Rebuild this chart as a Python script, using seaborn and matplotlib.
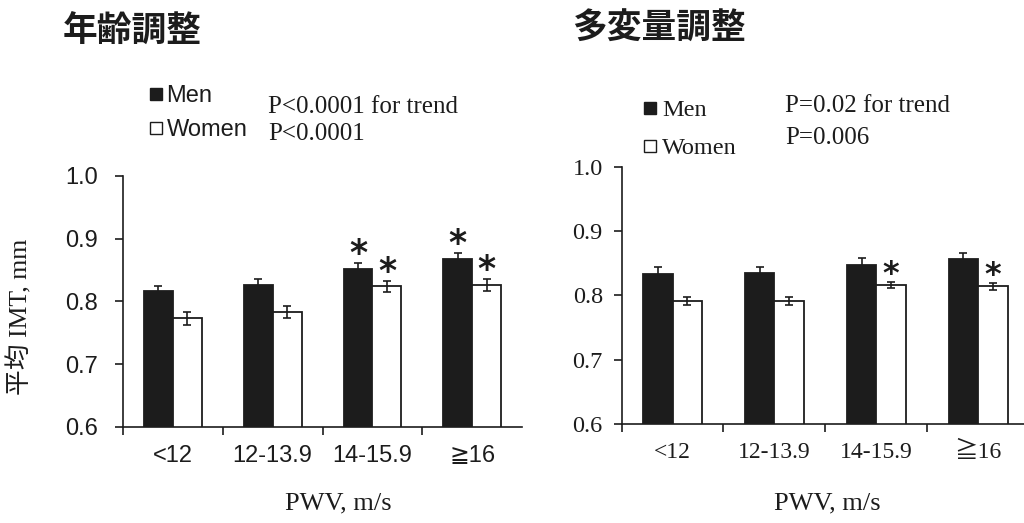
import numpy as np
import pandas as pd
import matplotlib as mpl
mpl.use("Agg")
import matplotlib.pyplot as plt
from matplotlib.lines import Line2D
import seaborn as sns

# PWV categories (x axis)
pwv_groups = ["<12", "12-13.9", "14-15.9", "≧16"]

# age adjusted (left panel)
age_men = [0.816, 0.826, 0.851, 0.867]
age_men_err = [0.009, 0.009, 0.011, 0.010]
age_women = [0.773, 0.783, 0.824, 0.826]
age_women_err = [0.010, 0.010, 0.009, 0.010]
age_men_sig = [False, False, True, True]
age_women_sig = [False, False, True, True]

# multivariable adjusted (right panel)
multi_men = [0.834, 0.835, 0.847, 0.856]
multi_men_err = [0.010, 0.009, 0.011, 0.010]
multi_women = [0.791, 0.791, 0.816, 0.814]
multi_women_err = [0.006, 0.006, 0.005, 0.006]
multi_men_sig = [False, False, False, False]
multi_women_sig = [False, False, True, True]

y_ticks = [0.6, 0.7, 0.8, 0.9, 1.0]

INK = "#1c1c1c"
SANS = ["Liberation Sans", "DejaVu Sans", "Noto Sans CJK JP"]
SERIF = ["Liberation Serif", "DejaVu Serif", "Noto Sans CJK JP"]
CJK = ["Noto Sans CJK JP", "DejaVu Sans"]

sns.set_style("ticks")
plt.rcParams["font.family"] = SANS
plt.rcParams["text.color"] = INK
plt.rcParams["axes.edgecolor"] = INK


def panel(ax, men, men_err, women, women_err, men_sig, women_sig, fam,
          ytick_fs, xtick_fs, xpad, ypad, star_fs):
    df = pd.DataFrame({
        "pwv": pwv_groups * 2,
        "imt": men + women,
        "sex": ["Men"] * 4 + ["Women"] * 4,
    })
    sns.barplot(data=df, x="pwv", y="imt", hue="sex",
                palette={"Men": INK, "Women": "white"},
                edgecolor=INK, linewidth=1.3, width=0.58,
                saturation=1, legend=False, ax=ax)
    for cont, vals, errs, sigs in zip(ax.containers, [men, women],
                                      [men_err, women_err], [men_sig, women_sig]):
        xs = [b.get_x() + b.get_width() / 2 for b in cont]
        ax.errorbar(xs, vals, yerr=errs, fmt="none", ecolor=INK,
                    elinewidth=1.2, capsize=3, capthick=1.2, zorder=3)
        for x, v, e, s in zip(xs, vals, errs, sigs):
            if s:
                ax.annotate("*", (x, v + e), xytext=(0, -6), textcoords="offset points",
                            ha="center", va="bottom", fontsize=star_fs,
                            fontweight="bold", family="DejaVu Sans", color=INK)
    ax.set_ylim(0.6, 1.0)
    ax.set_xlim(-0.5, 3.5)
    ax.set_yticks(y_ticks)
    ax.set_yticklabels([f"{t:.1f}" for t in y_ticks], family=fam, fontsize=ytick_fs)
    ax.set_xticks([-0.5, 0.5, 1.5, 2.5])
    ax.set_xticklabels([])
    ax.set_xticks(range(4), minor=True)
    ax.set_xticklabels(pwv_groups, minor=True, family=fam, fontsize=xtick_fs)
    ax.tick_params(axis="x", which="major", direction="out", length=6, width=1.2, color=INK)
    ax.tick_params(axis="x", which="minor", length=0, pad=xpad, colors=INK)
    ax.tick_params(axis="y", direction="out", length=6, width=1.2, pad=ypad, colors=INK)
    ax.set_xlabel("")
    ax.set_ylabel("")
    for side in ["top", "right"]:
        ax.spines[side].set_visible(False)
    for side in ["left", "bottom"]:
        ax.spines[side].set_linewidth(1.2)


fig = plt.figure(figsize=(10.24, 5.23), dpi=100)
ax1 = fig.add_axes([0.120, 0.1836, 0.390, 0.480])
ax2 = fig.add_axes([0.607, 0.1887, 0.398, 0.4926])

panel(ax1, age_men, age_men_err, age_women, age_women_err, age_men_sig, age_women_sig,
      SANS, 17, 17, 13, 12, 25)
panel(ax2, multi_men, multi_men_err, multi_women, multi_women_err, multi_men_sig,
      multi_women_sig, SERIF, 17.5, 17, 13, 7.5, 23)

# titles
fig.text(63 / 1024, 1 - 31 / 523, "年齢調整", family=CJK, fontweight="bold",
         fontsize=25, va="center", ha="left")
fig.text(572 / 1024, 1 - 28 / 523, "多変量調整", family=CJK, fontweight="bold",
         fontsize=25, va="center", ha="left")

# axis labels
fig.text(20 / 1024, 1 - 317 / 523, "平均 IMT, mm", family=SERIF, rotation=90,
         fontsize=18.5, va="center", ha="center")
fig.text(338 / 1024, 1 - 503 / 523, "PWV, m/s", family=SERIF, fontsize=19,
         va="center", ha="center")
fig.text(827 / 1024, 1 - 503 / 523, "PWV, m/s", family=SERIF, fontsize=19,
         va="center", ha="center")

# legends
handles = [Line2D([], [], ls="none", marker="s", markersize=8, markerfacecolor=INK,
                  markeredgecolor=INK, markeredgewidth=1.0),
           Line2D([], [], ls="none", marker="s", markersize=8, markerfacecolor="white",
                  markeredgecolor=INK, markeredgewidth=1.0)]
leg1 = fig.legend(handles, ["Men", "Women"], loc="upper left",
                  bbox_to_anchor=(150 / 1024, 1 - 85 / 523), frameon=False,
                  borderpad=0, borderaxespad=0, handlelength=0.5,
                  handletextpad=0.2, labelspacing=0.52,
                  prop={"family": SANS, "size": 17})
leg2 = fig.legend(handles, ["Men", "Women"], loc="upper left",
                  bbox_to_anchor=(645 / 1024, 1 - 99 / 523), frameon=False,
                  borderpad=0, borderaxespad=0, handlelength=0.45,
                  handletextpad=0.25, labelspacing=0.66,
                  prop={"family": SERIF, "size": 17.5})

# trend p-values
fig.text(268 / 1024, 1 - 107 / 523, "P<0.0001 for trend", family=SERIF, fontsize=18,
         va="center", ha="left")
fig.text(268 / 1024, 1 - 134 / 523, "P<0.0001", family=SERIF, fontsize=18,
         va="center", ha="left")
fig.text(785 / 1024, 1 - 106 / 523, "P=0.02 for trend", family=SERIF, fontsize=18,
         va="center", ha="left")
fig.text(785 / 1024, 1 - 138 / 523, "P=0.006", family=SERIF, fontsize=18,
         va="center", ha="left")

fig.savefig("out.png", dpi=100)
